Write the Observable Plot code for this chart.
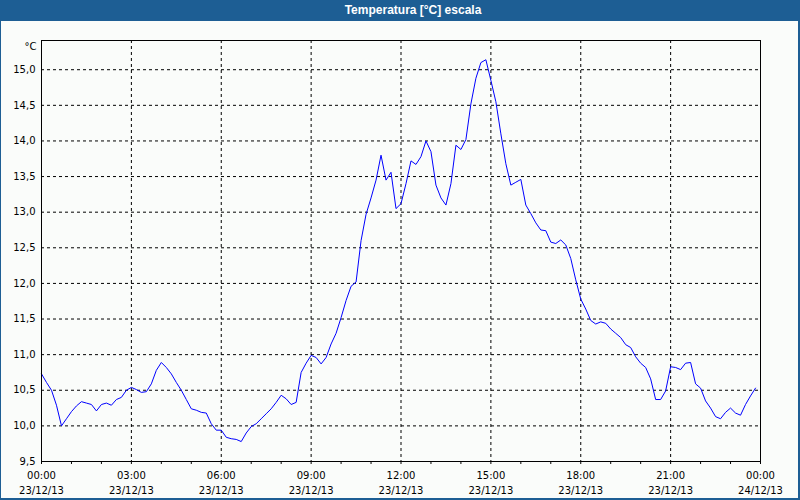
<!DOCTYPE html>
<html>
<head>
<meta charset="utf-8">
<script src="https://cdn.jsdelivr.net/npm/d3@7"></script>
<script src="https://cdn.jsdelivr.net/npm/@observablehq/plot@0.6"></script>
<style>
  html, body { margin: 0; padding: 0; background: #fafcfa; }
  #wrap { position: relative; width: 800px; height: 500px; overflow: hidden; background: #fafcfa; }
  #title { position: absolute; left: 0; top: 0; width: 800px; height: 21px; background: #1d5e94;
           color: #fff; font: bold 12px "Liberation Sans", sans-serif; line-height: 21px; }
  #title span { position: absolute; left: 413px; transform: translateX(-50%); white-space: nowrap; }
  #chart { position: absolute; left: 0; top: 21px; }
  .b { position: absolute; background: #1d5e94; }
</style>
</head>
<body>
<div id="wrap">
  <div id="title"><span>Temperatura [°C] escala</span></div>
  <div id="chart"></div>
  <div class="b" style="left:0;top:0;width:1px;height:500px"></div>
  <div class="b" style="left:798px;top:0;width:2px;height:500px"></div>
  <div class="b" style="left:0;top:498px;width:800px;height:2px"></div>
</div>
<script>
// Sampling: one reading every 10 minutes, 23/12/13 00:00 to 23:50
const startDate = Date.UTC(2013, 11, 23, 0, 0);
const endDate = Date.UTC(2013, 11, 24, 0, 0);
const stepMinutes = 10;
const temperature = [
  10.73, 10.61, 10.50, 10.29, 10.00, 10.10, 10.20, 10.28, 10.34, 10.32,
  10.30, 10.21, 10.30, 10.32, 10.29, 10.37, 10.40, 10.50, 10.54, 10.51,
  10.47, 10.48, 10.59, 10.78, 10.89, 10.82, 10.73, 10.61, 10.50, 10.37,
  10.24, 10.22, 10.19, 10.18, 10.03, 9.94, 9.94, 9.84, 9.82, 9.81,
  9.78, 9.90, 9.99, 10.03, 10.10, 10.17, 10.24, 10.33, 10.43, 10.38,
  10.30, 10.33, 10.75, 10.88, 10.99, 10.96, 10.87, 10.96, 11.15, 11.30,
  11.52, 11.76, 11.96, 12.02, 12.60, 12.97, 13.20, 13.45, 13.80, 13.45,
  13.56, 13.05, 13.12, 13.40, 13.72, 13.67, 13.78, 14.00, 13.85, 13.38,
  13.20, 13.10, 13.40, 13.94, 13.88, 14.02, 14.52, 14.88, 15.10, 15.14,
  14.85, 14.55, 14.10, 13.68, 13.38, 13.42, 13.46, 13.10, 12.98, 12.85,
  12.75, 12.74, 12.58, 12.56, 12.61, 12.54, 12.35, 12.05, 11.78, 11.64,
  11.48, 11.43, 11.46, 11.44, 11.36, 11.30, 11.24, 11.14, 11.10, 10.97,
  10.88, 10.82, 10.66, 10.37, 10.37, 10.49, 10.83, 10.82, 10.79, 10.88,
  10.89, 10.59, 10.53, 10.35, 10.25, 10.13, 10.10, 10.19, 10.25, 10.18,
  10.15, 10.30, 10.42, 10.53
];
const yTicks = [9.5, 10, 10.5, 11, 11.5, 12, 12.5, 13, 13.5, 14, 14.5, 15];
const yGridTicks = [10, 10.5, 11, 11.5, 12, 12.5, 13, 13.5, 14, 14.5, 15];
const xLabelHours = [0, 3, 6, 9, 12, 15, 18, 21, 24];
const xGridHours = [3, 6, 9, 12, 15, 18, 21];
const xMinorHours = d3.range(0, 25);
const yUnit = "°C";

const rows = temperature.map((v, i) => ({t: new Date(startDate + i * stepMinutes * 60000), v}));
const hourDate = h => new Date(startDate + h * 3600000);
const fmtNum = d => d.toFixed(1).replace(".", ",");
const fmtTime = d3.utcFormat("%H:%M");
const fmtDay = d3.utcFormat("%d/%m/%y");

const chart = Plot.plot({
  width: 800,
  height: 479,
  marginTop: 19,
  marginLeft: 41,
  marginRight: 40,
  marginBottom: 39,
  style: {background: "transparent", fontFamily: "DejaVu Sans, sans-serif", fontSize: "10px", color: "#000"},
  x: {type: "utc", domain: [new Date(startDate), new Date(endDate)], axis: null},
  y: {domain: [9.5, 15.41], axis: null},
  marks: [
    Plot.gridY({ticks: yGridTicks, stroke: "#000", strokeOpacity: 1, strokeDasharray: "3,3"}),
    Plot.gridX({ticks: xGridHours.map(hourDate), stroke: "#000", strokeOpacity: 1, strokeDasharray: "3,3"}),
    Plot.line(rows, {x: "t", y: "v", stroke: "#0000ff", strokeWidth: 1}),
    Plot.frame({stroke: "#000", strokeWidth: 1}),
    Plot.axisY({ticks: yTicks, tickSize: 0, tickPadding: 6, tickFormat: fmtNum, fill: "#000", label: null}),
    Plot.axisX({ticks: xMinorHours.map(hourDate), tickSize: 3, tickFormat: () => "", stroke: "#000", label: null}),
    Plot.text(xLabelHours.map(hourDate), {x: d => d, frameAnchor: "bottom", dy: 14, text: d => fmtTime(d), lineAnchor: "middle", fill: "#000"}),
    Plot.text(xLabelHours.map(hourDate), {x: d => d, frameAnchor: "bottom", dy: 29, text: d => fmtDay(d), lineAnchor: "middle", fill: "#000"}),
    Plot.text([yUnit], {frameAnchor: "top-left", dx: -5, dy: 6, text: d => d, textAnchor: "end", lineAnchor: "middle", fill: "#000"})
  ]
});
document.getElementById("chart").appendChild(chart);
</script>
</body>
</html>
